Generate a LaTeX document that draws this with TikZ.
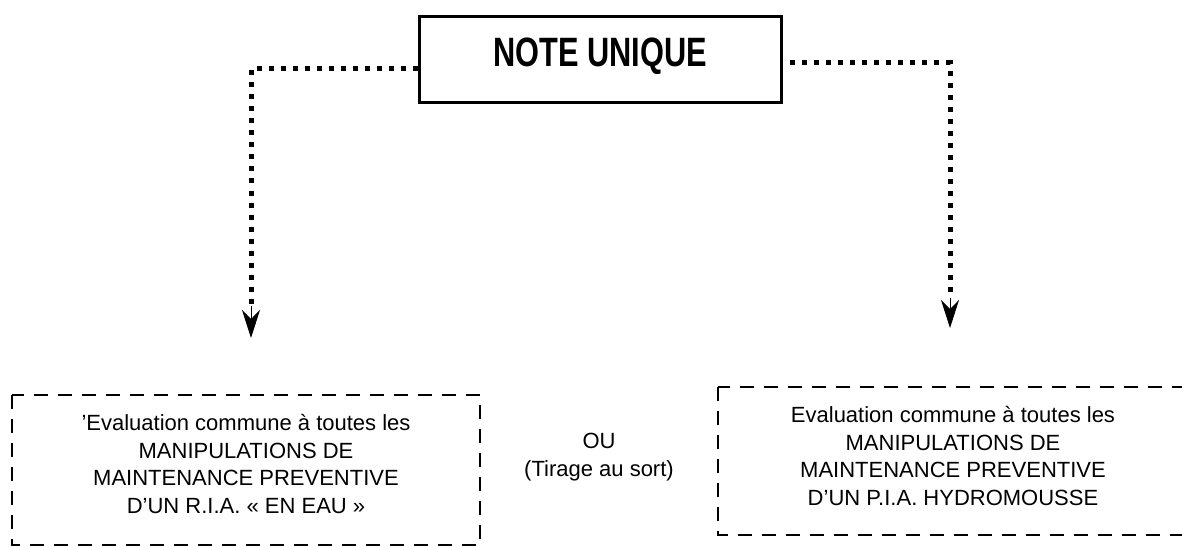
\documentclass[tikz,border=0pt]{standalone}
\usepackage{fontspec}
\setmainfont{Liberation Sans}
\newfontfamily\narrowbold[FakeStretch=0.75]{Liberation Sans Bold}
\usetikzlibrary{arrows.meta}
\tikzset{
  notebox/.style={draw, line width=3pt, inner sep=0pt, minimum width=362pt,
    text height=50pt, text depth=36pt, font=\narrowbold\fontsize{41}{41}\selectfont},
  dashbox/.style={draw, line width=2.8pt, dash pattern=on 14pt off 10pt},
  bodytext/.style={align=center, inner sep=0pt, font=\fontsize{22}{27.5}\selectfont},
  dotline/.style={line width=5pt, dash pattern=on 5pt off 7pt},
  arrowtip/.style={-{Stealth[length=28pt,width=18pt,inset=9pt]}, solid, line width=1pt}
}
\begin{document}
\begin{tikzpicture}[x=1pt,y=-1pt]
\useasboundingbox (0,0) rectangle (1182,548);
\fill[white] (0,0) rectangle (1182,548);
% main box
\node[notebox] (note) at (600,60) {NOTE UNIQUE};
% lower boxes
\draw[dashbox] (12,395) rectangle (480,545);
\draw[dashbox] (718,387) rectangle (1200,535);
\node[bodytext] (left) at (246,464) {'Evaluation commune à toutes les\\MANIPULATIONS DE\\MAINTENANCE PREVENTIVE\\D'UN R.I.A. « EN EAU »};
\node[bodytext] (right) at (953,456) {Evaluation commune à toutes les\\MANIPULATIONS DE\\MAINTENANCE PREVENTIVE\\D'UN P.I.A. HYDROMOUSSE};
\node[bodytext] (ou) at (599,457) {OU\\(Tirage au sort)};
% connectors
\coordinate (lc) at (251,69);
\coordinate (la) at (251,306);
\coordinate (lt) at (251,338);
\coordinate (rs) at (790,63);
\coordinate (rc) at (950,63);
\coordinate (ra) at (950,298);
\coordinate (rt) at (950,328);
\draw[dotline] (note.west |- lc) -- (lc) -- (la);
\draw[arrowtip] (la) -- (lt);
\draw[dotline] (rs) -- (rc) -- (ra);
\draw[arrowtip] (ra) -- (rt);
\end{tikzpicture}
\end{document}
